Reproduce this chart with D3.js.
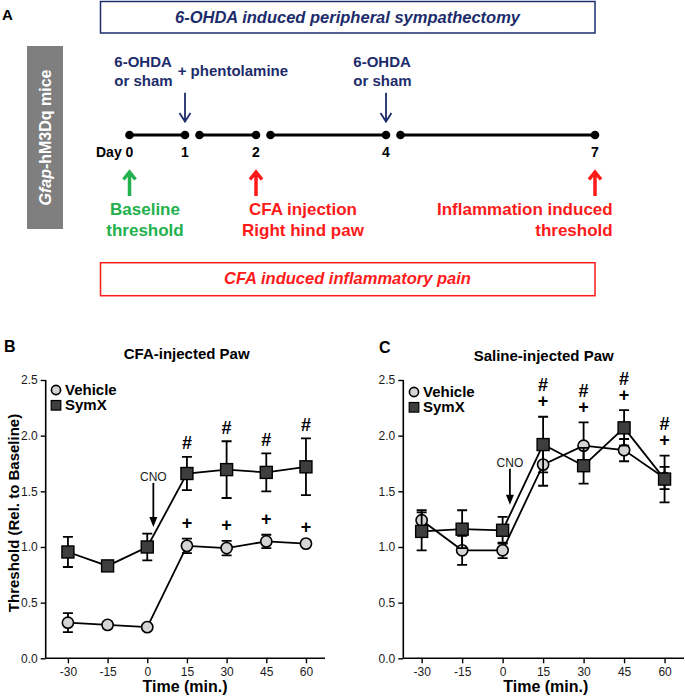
<!DOCTYPE html>
<html>
<head>
<meta charset="utf-8">
<script src="https://cdn.jsdelivr.net/npm/d3@7"></script>
<style>
  body { margin: 0; background: #fff; }
  svg { display: block; font-family: "Liberation Sans", Arial, sans-serif; }
</style>
</head>
<body>
<div id="chart"></div>
<script>
// Data
const times = [-30, -15, 0, 15, 30, 45, 60]
const yTicks = [0, 0.5, 1.0, 1.5, 2.0, 2.5]

const cfaVehicleMean = [0.32, 0.30, 0.28, 1.01, 0.99, 1.05, 1.03]
const cfaVehicleSem = [0.085, 0.03, 0.01, 0.065, 0.065, 0.06, 0.01]
const cfaSymxMean = [0.955, 0.83, 1.0, 1.66, 1.695, 1.67, 1.72]
const cfaSymxSem = [0.135, 0.03, 0.12, 0.15, 0.255, 0.17, 0.255]

const salVehicleMean = [1.24, 0.97, 0.97, 1.74, 1.91, 1.87, 1.62]
const salVehicleSem = [0.09, 0.13, 0.07, 0.19, 0.21, 0.10, 0.10]
const salSymxMean = [1.14, 1.16, 1.15, 1.92, 1.73, 2.07, 1.61]
const salSymxSem = [0.17, 0.17, 0.12, 0.25, 0.16, 0.16, 0.21]

const cfaHashTimes = [15, 30, 45, 60]
const cfaPlusTimes = [15, 30, 45, 60]
const salHashTimes = [15, 30, 45, 60]
const salPlusTimes = [15, 30, 45, 60]

const timelineDays = [0, 1, 2, 4, 7]
const timelineSegments = [[0, 1], [1, 2], [2, 4], [4, 7]]

const W = 685, H = 699
const navy = "#1d2c6b", green = "#22b14c", red = "#ff1a1a"

const svg = d3.select("#chart").append("svg")
  .attr("width", W).attr("height", H)

// ---------- Panel A: timeline ----------
const dayX = d3.scaleLinear().domain(timelineDays).range([129.5, 185, 256, 386, 595])
const lineY = 135

svg.append("text").attr("x", 2).attr("y", 20)
  .attr("font-size", 15).attr("font-weight", "bold").text("A")

svg.append("rect").attr("x", 100.5).attr("y", 1.5).attr("width", 494.5).attr("height", 31.5)
  .attr("fill", "none").attr("stroke", navy).attr("stroke-width", 1.5)
svg.append("text").attr("x", 347.5).attr("y", 22.7).attr("text-anchor", "middle")
  .attr("font-size", 16.5).attr("font-weight", "bold").attr("font-style", "italic")
  .attr("fill", navy).text("6-OHDA induced peripheral sympathectomy")

svg.append("rect").attr("x", 27).attr("y", 46).attr("width", 36).attr("height", 183)
  .attr("fill", "#7f7f7f")
const mice = svg.append("text").attr("transform", "translate(50.6,137.5) rotate(-90)")
  .attr("text-anchor", "middle").attr("font-size", 16).attr("font-weight", "bold").attr("fill", "#fff")
mice.append("tspan").attr("font-style", "italic").text("Gfap")
mice.append("tspan").text("-hM3Dq mice")

// segments with a dot at each end
timelineSegments.forEach(([a, b]) => {
  const x1 = a === 0 ? dayX(a) : dayX(a) + 14.5
  const x2 = dayX(b)
  svg.append("line").attr("x1", x1).attr("x2", x2).attr("y1", lineY).attr("y2", lineY)
    .attr("stroke", "#000").attr("stroke-width", 3)
  ;[x1, x2].forEach(x => svg.append("circle").attr("cx", x).attr("cy", lineY).attr("r", 4.3).attr("fill", "#000"))
})

svg.append("text").attr("x", 121.7).attr("y", 157).attr("text-anchor", "end")
  .attr("font-size", 14).attr("font-weight", "bold").text("Day")
timelineDays.forEach(d => {
  svg.append("text").attr("x", dayX(d)).attr("y", 157).attr("text-anchor", "middle")
    .attr("font-size", 14).attr("font-weight", "bold").text(d)
})

const navyText = (x, y, t) => svg.append("text").attr("x", x).attr("y", y)
  .attr("font-size", 15).attr("font-weight", "bold").attr("fill", navy).text(t)
navyText(114.3, 66.7, "6-OHDA")
navyText(114.3, 86, "or sham")
navyText(177.7, 76, "+ phentolamine")
navyText(353.3, 66.7, "6-OHDA")
navyText(353.3, 86, "or sham")

;[1, 4].forEach(d => {
  const x = dayX(d)
  svg.append("path")
    .attr("d", `M${x},92.7 L${x},121.5 M${x - 5.5},113 L${x},121.5 L${x + 5.5},113`)
    .attr("fill", "none").attr("stroke", navy).attr("stroke-width", 1.8)
})

const upArrow = (d, color) => {
  const x = dayX(d)
  svg.append("path")
    .attr("d", `M${x},196 L${x},172.5 M${x - 6},179.5 L${x},172 L${x + 6},179.5`)
    .attr("fill", "none").attr("stroke", color).attr("stroke-width", 3.5)
}
upArrow(0, green)
upArrow(2, red)
upArrow(7, red)

const colorText = (x, y, t, color, anchor) => svg.append("text").attr("x", x).attr("y", y)
  .attr("text-anchor", anchor).attr("font-size", 17).attr("font-weight", "bold").attr("fill", color).text(t)
colorText(145, 215, "Baseline", green, "middle")
colorText(145, 235.7, "threshold", green, "middle")
colorText(303, 215, "CFA injection", red, "middle")
colorText(303, 235.7, "Right hind paw", red, "middle")
colorText(612.7, 215, "Inflammation induced", red, "end")
colorText(612.7, 235.7, "threshold", red, "end")

svg.append("rect").attr("x", 100.5).attr("y", 262.7).attr("width", 494.5).attr("height", 33)
  .attr("fill", "none").attr("stroke", red).attr("stroke-width", 1.5)
svg.append("text").attr("x", 347.5).attr("y", 283.6).attr("text-anchor", "middle")
  .attr("font-size", 16.5).attr("font-weight", "bold").attr("font-style", "italic")
  .attr("fill", red).text("CFA induced inflammatory pain")

// ---------- Panels B and C ----------
function drawPanel(cfg) {
  const x = d3.scaleLinear().domain(cfg.xDomain).range([cfg.left, cfg.right])
  const y = d3.scaleLinear().domain([0, 2.5]).range([658.3, 380])
  const g = svg.append("g")

  g.append("text").attr("x", cfg.labelX).attr("y", cfg.labelY)
    .attr("font-size", 16).attr("font-weight", "bold").text(cfg.label)
  g.append("text").attr("x", cfg.titleX).attr("y", cfg.titleY).attr("text-anchor", "middle")
    .attr("font-size", 15).attr("font-weight", "bold").text(cfg.title)

  const yAxis = g.append("g").attr("transform", `translate(${cfg.left},0)`)
    .call(d3.axisLeft(y).tickValues(yTicks).tickFormat(d3.format(".1f")).tickSize(5).tickPadding(3))
  const xAxis = g.append("g").attr("transform", `translate(0,${y(0)})`)
    .call(d3.axisBottom(x).tickValues(times).tickFormat(d => String(d)).tickSize(5).tickPadding(4))
  ;[yAxis, xAxis].forEach(a => {
    a.select(".domain").attr("stroke", "#000").attr("stroke-width", 1.6)
    a.selectAll(".tick line").attr("stroke", "#000").attr("stroke-width", 1.4)
    a.selectAll("text").attr("font-size", 12).attr("fill", "#1a1a1a")
      .attr("font-family", "'Liberation Sans', Arial, sans-serif")
  })
  xAxis.select(".domain").attr("d", `M${cfg.left},0H${cfg.right}`)
  yAxis.select(".domain").attr("d", `M0,${y(2.5)}V${y(0)}`)

  g.append("text").attr("x", cfg.xLabelX).attr("y", 691.7).attr("text-anchor", "middle")
    .attr("font-size", 16).attr("font-weight", "bold").text("Time (min.)")
  if (cfg.yLabel) {
    g.append("text").attr("transform", "translate(19,513) rotate(-90)").attr("text-anchor", "middle")
      .attr("font-size", 15).attr("font-weight", "bold").text("Threshold (Rel. to Baseline)")
  }

  // CNO arrow
  const cx = x(cfg.cno.t), tipY = y(cfg.cno.tip)
  g.append("line").attr("x1", cx).attr("x2", cx).attr("y1", tipY - cfg.cno.len).attr("y2", tipY - 8)
    .attr("stroke", "#000").attr("stroke-width", 1.8)
  g.append("path").attr("d", `M${cx - 4},${tipY - 10} L${cx + 4},${tipY - 10} L${cx},${tipY} Z`).attr("fill", "#000")
  g.append("text").attr("x", cx).attr("y", tipY - cfg.cno.len - 2).attr("text-anchor", "middle")
    .attr("font-size", 12).attr("fill", "#1a1a1a").text("CNO")

  const series = [
    { mean: cfg.vehMean, sem: cfg.vehSem, shape: "circle", fill: "#d4d4d4" },
    { mean: cfg.symMean, sem: cfg.symSem, shape: "square", fill: "#3e3e3e" }
  ]
  series.forEach(s => {
    const pts = times.map((t, i) => ({ t, m: s.mean[i], e: s.sem[i] }))
    g.append("path").datum(pts)
      .attr("d", d3.line().x(d => x(d.t)).y(d => y(d.m)))
      .attr("fill", "none").attr("stroke", "#000").attr("stroke-width", 1.8)
    pts.forEach(p => {
      const px = x(p.t)
      g.append("path")
        .attr("d", `M${px},${y(p.m + p.e)}V${y(p.m - p.e)}M${px - 5},${y(p.m + p.e)}H${px + 5}M${px - 5},${y(p.m - p.e)}H${px + 5}`)
        .attr("stroke", "#000").attr("stroke-width", 1.8).attr("fill", "none")
    })
    pts.forEach(p => {
      if (s.shape === "circle") {
        g.append("circle").attr("cx", x(p.t)).attr("cy", y(p.m)).attr("r", 5.6)
          .attr("fill", s.fill).attr("stroke", "#000").attr("stroke-width", 1.6)
      } else {
        g.append("rect").attr("x", x(p.t) - 6).attr("y", y(p.m) - 6).attr("width", 12).attr("height", 12)
          .attr("fill", s.fill).attr("stroke", "#000").attr("stroke-width", 1.4)
      }
    })
  })

  // significance marks
  const topOf = (mean, sem, t) => { const i = times.indexOf(t); return mean[i] + sem[i] }
  cfg.hash.forEach(t => {
    const top = cfg.stacked
      ? Math.max(topOf(cfg.vehMean, cfg.vehSem, t), topOf(cfg.symMean, cfg.symSem, t))
      : topOf(cfg.symMean, cfg.symSem, t)
    const cy = y(top) - (cfg.stacked ? 32 : 14)
    g.append("text").attr("x", x(t)).attr("y", cy + 6.5).attr("text-anchor", "middle")
      .attr("font-size", 18).attr("font-weight", "bold").text("#")
  })
  cfg.plus.forEach(t => {
    const top = cfg.stacked
      ? Math.max(topOf(cfg.vehMean, cfg.vehSem, t), topOf(cfg.symMean, cfg.symSem, t))
      : topOf(cfg.vehMean, cfg.vehSem, t)
    const cy = y(top) - 15.5
    g.append("text").attr("x", x(t)).attr("y", cy + 6).attr("text-anchor", "middle")
      .attr("font-size", 18).attr("font-weight", "bold").text("+")
  })

  // legend
  g.append("circle").attr("cx", cfg.legX).attr("cy", cfg.legY).attr("r", 4.6)
    .attr("fill", "#d4d4d4").attr("stroke", "#000").attr("stroke-width", 1.6)
  g.append("rect").attr("x", cfg.legX - 4.8).attr("y", cfg.legY + 15.3 - 4.8).attr("width", 9.6).attr("height", 9.6)
    .attr("fill", "#3e3e3e").attr("stroke", "#000").attr("stroke-width", 1.2)
  g.append("text").attr("x", cfg.legX + 9).attr("y", cfg.legY + 5.3)
    .attr("font-size", 15).attr("font-weight", "bold").text("Vehicle")
  g.append("text").attr("x", cfg.legX + 9).attr("y", cfg.legY + 20.3)
    .attr("font-size", 15).attr("font-weight", "bold").text("SymX")
}

drawPanel({
  label: "B", labelX: 4, labelY: 351.7,
  title: "CFA-injected Paw", titleX: 186.7, titleY: 359.3,
  left: 45.7, right: 325, xDomain: [-38.4, 67.2],
  xLabelX: 185, yLabel: true,
  legX: 56, legY: 390,
  cno: { t: 2.3, tip: 1.18, len: 44 },
  vehMean: cfaVehicleMean, vehSem: cfaVehicleSem,
  symMean: cfaSymxMean, symSem: cfaSymxSem,
  hash: cfaHashTimes, plus: cfaPlusTimes, stacked: false
})

drawPanel({
  label: "C", labelX: 379, labelY: 353,
  title: "Saline-injected Paw", titleX: 543.7, titleY: 360.7,
  left: 403.3, right: 684, xDomain: [-36.8, 67.2],
  xLabelX: 545.8, yLabel: false,
  legX: 414, legY: 392,
  cno: { t: 2.7, tip: 1.38, len: 36 },
  vehMean: salVehicleMean, vehSem: salVehicleSem,
  symMean: salSymxMean, symSem: salSymxSem,
  hash: salHashTimes, plus: salPlusTimes, stacked: true
})
</script>
</body>
</html>
